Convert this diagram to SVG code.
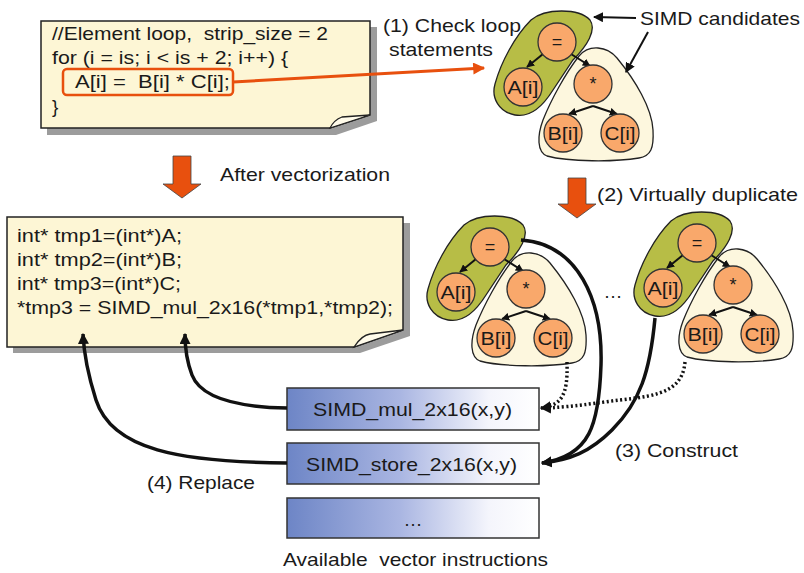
<svg xmlns="http://www.w3.org/2000/svg" width="804" height="573" viewBox="0 0 804 573">
  <style>
    text { font-family: "Liberation Sans", Arial, sans-serif; fill: #1a1a1a; }
    .t { font-size: 19px; }
    .code { font-size: 19px; }
    .nodeTxt { font-size: 18px; text-anchor: middle; }
    .note { fill: #fdf6d5; stroke: #222; stroke-width: 1.5; }
    .fold { fill: #fffbea; stroke: #222; stroke-width: 1.3; }
    .shadow { fill: #9c9c9c; }
    .circ { fill: #f9a86b; stroke: #333; stroke-width: 1.3; }
    .green { fill: #b7bd46; stroke: #222; stroke-width: 1.3; }
    .cream { fill: #fdf7de; stroke: #222; stroke-width: 1.3; }
    .edge { stroke: #111; stroke-width: 2; fill: none; marker-end: url(#ah); }
    .thick { stroke: #111; stroke-width: 3.5; fill: none; marker-end: url(#ahBig); }
    .dots { stroke: #111; stroke-width: 3.5; fill: none; stroke-dasharray: 2 2.5; marker-end: url(#ahBig); }
    .ptr { stroke: #111; stroke-width: 2; fill: none; marker-end: url(#ahPtr); }
    .instr { fill: url(#instrGrad); stroke: #333; stroke-width: 1.5; }
    .bigArrow { fill: #e8500e; stroke: #444; stroke-width: 0.8; }
  </style>
  <defs>
    <marker id="ah" viewBox="0 0 10 10" refX="9" refY="5" markerWidth="8" markerHeight="8" markerUnits="userSpaceOnUse" orient="auto">
      <path d="M0,0 L10,5 L0,10 Z" fill="#111"/>
    </marker>
    <marker id="ahBig" viewBox="0 0 10 10" refX="9" refY="5" markerWidth="11" markerHeight="11" markerUnits="userSpaceOnUse" orient="auto">
      <path d="M0,0 L10,5 L0,10 Z" fill="#111"/>
    </marker>
    <marker id="ahPtr" viewBox="0 0 10 10" refX="9" refY="5" markerWidth="10" markerHeight="10" markerUnits="userSpaceOnUse" orient="auto">
      <path d="M0,0 L10,5 L0,10 Z" fill="#111"/>
    </marker>
    <marker id="ahOrange" viewBox="0 0 10 10" refX="9" refY="5" markerWidth="14" markerHeight="12" markerUnits="userSpaceOnUse" orient="auto">
      <path d="M0,0 L10,5 L0,10 Z" fill="#e8500e"/>
    </marker>
    <linearGradient id="instrGrad" x1="0" y1="0" x2="1" y2="0">
      <stop offset="0" stop-color="#6d85c6"/>
      <stop offset="0.45" stop-color="#aab6e2"/>
      <stop offset="0.8" stop-color="#f4f5fc"/>
      <stop offset="1" stop-color="#ffffff"/>
    </linearGradient>
  </defs>

  <!-- original loop code -->
  <g id="loop-code">
    <path class="shadow" d="M47,27 H377 V121 L336,135 H47 Z"/>
    <path class="note" d="M41,21 H370 V115 L330,128 H41 Z"/>
    <path class="fold" d="M330,128 Q334,120 342,117 L370,115 Z"/>
    <text class="code" x="52" y="40" textLength="276" lengthAdjust="spacingAndGlyphs" xml:space="preserve">//Element loop,  strip_size = 2</text>
    <text class="code" x="52" y="64" textLength="236" lengthAdjust="spacingAndGlyphs">for (i = is; i &lt; is + 2; i++) {</text>
    <text class="code" x="75" y="88" textLength="155" lengthAdjust="spacingAndGlyphs" xml:space="preserve">A[i] =  B[i] * C[i];</text>
    <text class="code" x="52" y="113">}</text>
    <rect x="63" y="69" width="170" height="26" rx="4" fill="none" stroke="#e8500e" stroke-width="2.5"/>
  </g>

  <!-- vectorized code -->
  <g id="vector-code">
    <path class="shadow" d="M13,223 H410 V336 L360,353 H13 Z"/>
    <path class="note" d="M7,217 H403 V330 L354,347 H7 Z"/>
    <path class="fold" d="M354,347 Q362,335 370,334 L403,330 Z"/>
    <text class="code" x="17" y="242" textLength="165" lengthAdjust="spacingAndGlyphs">int* tmp1=(int*)A;</text>
    <text class="code" x="17" y="266" textLength="165" lengthAdjust="spacingAndGlyphs">int* tmp2=(int*)B;</text>
    <text class="code" x="17" y="290" textLength="164" lengthAdjust="spacingAndGlyphs">int* tmp3=(int*)C;</text>
    <text class="code" x="17" y="314" textLength="376" lengthAdjust="spacingAndGlyphs">*tmp3 = SIMD_mul_2x16(*tmp1,*tmp2);</text>
  </g>

  <!-- step arrows and labels -->
  <g id="step-after">
    <path class="bigArrow" d="M173,156 H191 V184 H201 L182,198 L163,184 H173 Z"/>
    <text class="t" x="220" y="181" textLength="170" lengthAdjust="spacingAndGlyphs">After vectorization</text>
  </g>
  <g id="step-duplicate">
    <path class="bigArrow" d="M568,178 H586 V204 H596 L577,218 L558,204 H568 Z"/>
    <text class="t" x="597" y="201" textLength="201" lengthAdjust="spacingAndGlyphs">(2) Virtually duplicate</text>
  </g>
  <g id="step-check">
    <text class="t" x="383" y="32" textLength="138" lengthAdjust="spacingAndGlyphs">(1) Check loop</text>
    <text class="t" x="389" y="56" textLength="104" lengthAdjust="spacingAndGlyphs">statements</text>
  </g>
  <g id="label-candidates">
    <text class="t" x="640" y="25" textLength="160" lengthAdjust="spacingAndGlyphs">SIMD candidates</text>
  </g>
  <g id="label-construct">
    <text class="t" x="615" y="457" textLength="123" lengthAdjust="spacingAndGlyphs">(3) Construct</text>
  </g>
  <g id="label-replace">
    <text class="t" x="147" y="489" textLength="108" lengthAdjust="spacingAndGlyphs">(4) Replace</text>
  </g>
  <g id="label-available">
    <text class="t" x="283" y="566" textLength="265" lengthAdjust="spacingAndGlyphs" xml:space="preserve">Available  vector instructions</text>
  </g>

  <!-- expression tree: original statement -->
  <g id="tree-orig" transform="translate(557,42)">
    <path class="cream" d="M22,14 C32,2 50,4 60,16 C78,38 95,66 96,88 C97,106 94,114 82,116 C58,120 12,120 -10,114 C-20,110 -20,94 -14,78 C-6,58 8,32 22,14 Z"/>
    <path class="green" d="M-26,-22 C-12,-34 22,-34 33,-22 C40,-12 30,4 16,18 L-4,48 C-14,64 -26,76 -42,73 C-58,70 -66,56 -62,42 C-56,20 -42,-6 -26,-22 Z"/>
    <line class="edge" x1="-14" y1="12" x2="-30" y2="25"/>
    <line class="edge" x1="14" y1="12" x2="33" y2="24"/>
    <line class="edge" x1="36" y1="64" x2="12" y2="72"/>
    <line class="edge" x1="36" y1="64" x2="60" y2="72"/>
    <g id="orig-assign"><circle class="circ" cx="0" cy="0" r="19"/><text class="nodeTxt" x="0" y="6">=</text></g>
    <g id="orig-a"><circle class="circ" cx="-34" cy="45" r="19"/><text class="nodeTxt" x="-34" y="52" textLength="31" lengthAdjust="spacingAndGlyphs">A[i]</text></g>
    <g id="orig-mul"><circle class="circ" cx="36" cy="42" r="19"/><text class="nodeTxt" x="36" y="48">*</text></g>
    <g id="orig-b"><circle class="circ" cx="6" cy="91" r="19"/><text class="nodeTxt" x="6" y="98" textLength="31" lengthAdjust="spacingAndGlyphs">B[i]</text></g>
    <g id="orig-c"><circle class="circ" cx="63" cy="91" r="19"/><text class="nodeTxt" x="63" y="98" textLength="31" lengthAdjust="spacingAndGlyphs">C[i]</text></g>
  </g>

  <!-- duplicated tree, first copy -->
  <g id="tree-dup1" transform="translate(490,247)">
    <path class="cream" d="M22,14 C32,2 50,4 60,16 C78,38 95,66 96,88 C97,106 94,114 82,116 C58,120 12,120 -10,114 C-20,110 -20,94 -14,78 C-6,58 8,32 22,14 Z"/>
    <path class="green" d="M-26,-22 C-12,-34 22,-34 33,-22 C40,-12 30,4 16,18 L-4,48 C-14,64 -26,76 -42,73 C-58,70 -66,56 -62,42 C-56,20 -42,-6 -26,-22 Z"/>
    <line class="edge" x1="-14" y1="12" x2="-30" y2="25"/>
    <line class="edge" x1="14" y1="12" x2="33" y2="24"/>
    <line class="edge" x1="36" y1="64" x2="12" y2="72"/>
    <line class="edge" x1="36" y1="64" x2="60" y2="72"/>
    <g id="dup1-assign"><circle class="circ" cx="0" cy="0" r="19"/><text class="nodeTxt" x="0" y="6">=</text></g>
    <g id="dup1-a"><circle class="circ" cx="-34" cy="45" r="19"/><text class="nodeTxt" x="-34" y="52" textLength="31" lengthAdjust="spacingAndGlyphs">A[i]</text></g>
    <g id="dup1-mul"><circle class="circ" cx="36" cy="42" r="19"/><text class="nodeTxt" x="36" y="48">*</text></g>
    <g id="dup1-b"><circle class="circ" cx="6" cy="91" r="19"/><text class="nodeTxt" x="6" y="98" textLength="31" lengthAdjust="spacingAndGlyphs">B[i]</text></g>
    <g id="dup1-c"><circle class="circ" cx="63" cy="91" r="19"/><text class="nodeTxt" x="63" y="98" textLength="31" lengthAdjust="spacingAndGlyphs">C[i]</text></g>
  </g>

  <g id="ellipsis">
    <text class="t" x="613" y="298" text-anchor="middle">…</text>
  </g>

  <!-- duplicated tree, last copy -->
  <g id="tree-dup2" transform="translate(697,243)">
    <path class="cream" d="M22,14 C32,2 50,4 60,16 C78,38 95,66 96,88 C97,106 94,114 82,116 C58,120 12,120 -10,114 C-20,110 -20,94 -14,78 C-6,58 8,32 22,14 Z"/>
    <path class="green" d="M-26,-22 C-12,-34 22,-34 33,-22 C40,-12 30,4 16,18 L-4,48 C-14,64 -26,76 -42,73 C-58,70 -66,56 -62,42 C-56,20 -42,-6 -26,-22 Z"/>
    <line class="edge" x1="-14" y1="12" x2="-30" y2="25"/>
    <line class="edge" x1="14" y1="12" x2="33" y2="24"/>
    <line class="edge" x1="36" y1="64" x2="12" y2="72"/>
    <line class="edge" x1="36" y1="64" x2="60" y2="72"/>
    <g id="dup2-assign"><circle class="circ" cx="0" cy="0" r="19"/><text class="nodeTxt" x="0" y="6">=</text></g>
    <g id="dup2-a"><circle class="circ" cx="-34" cy="45" r="19"/><text class="nodeTxt" x="-34" y="52" textLength="31" lengthAdjust="spacingAndGlyphs">A[i]</text></g>
    <g id="dup2-mul"><circle class="circ" cx="36" cy="42" r="19"/><text class="nodeTxt" x="36" y="48">*</text></g>
    <g id="dup2-b"><circle class="circ" cx="6" cy="91" r="19"/><text class="nodeTxt" x="6" y="98" textLength="31" lengthAdjust="spacingAndGlyphs">B[i]</text></g>
    <g id="dup2-c"><circle class="circ" cx="63" cy="91" r="19"/><text class="nodeTxt" x="63" y="98" textLength="31" lengthAdjust="spacingAndGlyphs">C[i]</text></g>
  </g>

  <!-- vector instruction table -->
  <g id="instr-mul">
    <rect class="instr" x="287" y="388" width="252" height="42"/>
    <text class="t" x="313" y="416" textLength="199" lengthAdjust="spacingAndGlyphs">SIMD_mul_2x16(x,y)</text>
  </g>
  <g id="instr-store">
    <rect class="instr" x="287" y="443" width="252" height="41"/>
    <text class="t" x="306" y="471" textLength="211" lengthAdjust="spacingAndGlyphs">SIMD_store_2x16(x,y)</text>
  </g>
  <g id="instr-more">
    <rect class="instr" x="287" y="498" width="252" height="40"/>
    <text class="t" x="413" y="526" text-anchor="middle">…</text>
  </g>

  <!-- connectors -->
  <g id="connectors">
    <line x1="233" y1="82" x2="484" y2="68" stroke="#e8500e" stroke-width="3" marker-end="url(#ahOrange)"/>
    <line class="ptr" x1="636" y1="18" x2="594" y2="17"/>
    <line class="ptr" x1="648" y1="32" x2="626" y2="72"/>
    <path class="dots" d="M567,362 C568,395 562,405 541,408"/>
    <path class="dots" d="M685,362 C682,398 645,396 605,402 C575,406 556,408 541,408"/>
    <path class="thick" d="M521,240 C578,244 603,300 601,365 C599,425 590,456 542,463"/>
    <path class="thick" d="M655,318 C650,372 640,402 612,430 C590,452 570,460 542,463"/>
    <path class="thick" d="M287,408 C232,407 200,396 192,375 C187,362 185,350 185,334"/>
    <path class="thick" d="M287,463 C180,462 112,450 96,400 C89,378 84,356 83,334"/>
  </g>
</svg>
